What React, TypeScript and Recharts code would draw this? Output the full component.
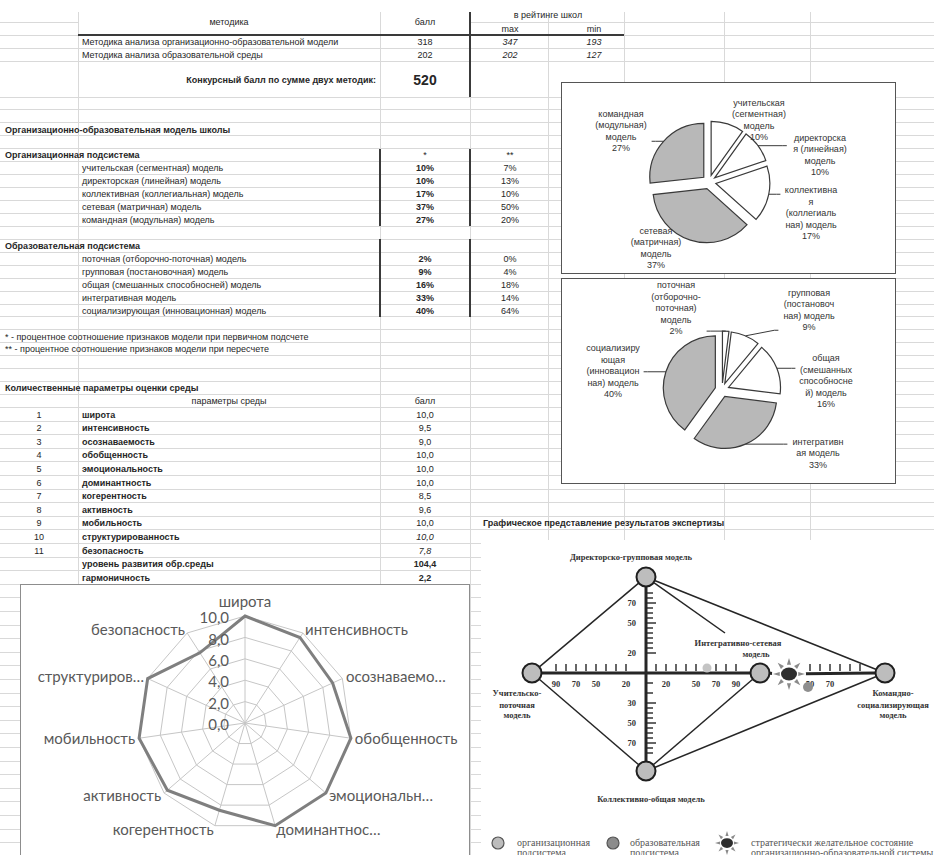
import React from 'react'
import {
  PieChart,
  Pie,
  Cell,
  RadarChart,
  Radar,
  PolarGrid,
  PolarAngleAxis,
  PolarRadiusAxis,
  ScatterChart,
  Scatter,
  XAxis,
  YAxis,
  ReferenceLine,
} from 'recharts'

// ---------- data ----------
const METHODS = [
  'Методика анализа организационно-образовательной модели',
  'Методика анализа образовательной среды',
]
const METHOD_SCORES = [318, 202]
const RATING_MAX = [347, 202]
const RATING_MIN = [193, 127]

const ORG_MODELS = [
  'учительская (сегментная) модель',
  'директорская (линейная) модель',
  'коллективная (коллегиальная) модель',
  'сетевая (матричная) модель',
  'командная (модульная) модель',
]
const ORG_PRIMARY = [10, 10, 17, 37, 27]
const ORG_RECOUNT = [7, 13, 10, 50, 20]
const ORG_PIE_LABELS = [
  ['учительская', '(сегментная)', 'модель'],
  ['директорска', 'я (линейная)', 'модель'],
  ['коллективна', 'я', '(коллегиаль', 'ная) модель'],
  ['сетевая', '(матричная)', 'модель'],
  ['командная', '(модульная)', 'модель'],
]

const EDU_MODELS = [
  'поточная (отборочно-поточная) модель',
  'групповая (постановочная) модель',
  'общая (смешанных способносней) модель',
  'интегративная модель',
  'социализирующая (инновационная) модель',
]
const EDU_PRIMARY = [2, 9, 16, 33, 40]
const EDU_RECOUNT = [0, 4, 18, 14, 64]
const EDU_PIE_LABELS = [
  ['поточная', '(отборочно-', 'поточная)', 'модель'],
  ['групповая', '(постановоч', 'ная) модель'],
  ['общая', '(смешанных', 'способносне', 'й) модель'],
  ['интегративн', 'ая модель'],
  ['социализиру', 'ющая', '(инновацион', 'ная) модель'],
]

const ENV_PARAMS = [
  'широта',
  'интенсивность',
  'осознаваемость',
  'обобщенность',
  'эмоциональность',
  'доминантность',
  'когерентность',
  'активность',
  'мобильность',
  'структурированность',
  'безопасность',
]
const ENV_AXIS_LABELS = [
  'широта',
  'интенсивность',
  'осознаваемо…',
  'обобщенность',
  'эмоциональн…',
  'доминантнос…',
  'когерентность',
  'активность',
  'мобильность',
  'структуриров…',
  'безопасность',
]
const ENV_SCORES = [10.0, 9.5, 9.0, 10.0, 10.0, 10.0, 8.5, 9.6, 10.0, 10.0, 7.8]
const ENV_ITALIC = [false, false, false, false, false, false, false, false, false, true, true]
const ENV_LEVEL = 104.4
const ENV_HARMONY = 2.2

// expert diagram, in scale points from the crossing of the two scales
const MODEL_NODES = [
  { name: 'Директорско-групповая модель', x: 0, y: 96 },
  { name: 'Учительско-поточная модель', x: -114, y: 0 },
  { name: 'Интегративно-сетевая модель', x: 114, y: 0 },
  { name: 'Командно-социализирующая модель', x: 239, y: 0 },
  { name: 'Коллективно-общая модель', x: 0, y: -98 },
]
const MODEL_LINKS = [
  [0, 1],
  [1, 4],
  [0, 3],
  [4, 3],
  [4, 2],
]
const ORG_STATE = [{ x: 61, y: 5 }]
const EDU_STATE = [{ x: 162, y: -14 }]
const TARGET_STATE = [{ x: 143, y: -1 }]
const POINTER_END = { x: 79, y: 40 }

const SCALE_H_LEFT = [20, 30, 40, 50, 60, 70, 80, 90]
const SCALE_H_RIGHT = [10, 20, 30, 40, 50, 60, 70, 80, 90]
const SCALE_H_OUTER = [50, 60, 70, 80, 90, 100]
const SCALE_V_UP = [20, 25, 30, 35, 40, 45, 50, 55, 60, 65, 70, 75, 80]
const SCALE_V_DOWN = [10, 20, 30, 35, 40, 45, 50, 55, 60, 65, 70, 75, 80]
const LABELS_H_LEFT = [90, 70, 50, 20]
const LABELS_H_RIGHT = [20, 50, 70, 90]
const LABELS_H_OUTER = [50, 70]
const LABELS_V_UP = [70, 50, 20]
const LABELS_V_DOWN = [30, 50, 70]

// ---------- look ----------
const W = 934
const H = 855
const SANS = '"Liberation Sans", Arial, sans-serif'
const SERIF = '"Liberation Serif", "Times New Roman", serif'
const CAL = 'Lato, "Open Sans", sans-serif'
const INK = '#262626'
const GRID = '#d9d9d9'
const DARK = '#262626'
const RAD = Math.PI / 180

const COLS = [78, 380, 470, 548, 624, 724, 810]
const COL_C = 425
const COL_D = 510
const COL_E = 594
const ROW_TOP = 97
const ROW_H = 12.94
const PROW_TOP = ROW_TOP + ROW_H * 24
const PROW_H = 13.6
const rowY = (k: number) => ROW_TOP + ROW_H * (k + 0.5)
const pRowY = (j: number) => PROW_TOP + PROW_H * (j + 0.5)
const pct = (v: number) => `${v}%`
const dec = (v: number) => v.toFixed(1).replace('.', ',')

function Txt({ x, y, children, anchor = 'start', bold = false, italic = false, size = 9, fill = INK }: any) {
  return (
    <text
      x={x}
      y={y + size * 0.35}
      textAnchor={anchor}
      fontWeight={bold ? 700 : 400}
      fontStyle={italic ? 'italic' : 'normal'}
      fontSize={size}
      fill={fill}
      fontFamily={SANS}
    >
      {children}
    </text>
  )
}

function Sheet() {
  const hLines: number[] = [48, 61]
  for (let k = 0; k <= 24; k++) hLines.push(ROW_TOP + k * ROW_H)
  for (let y = PROW_TOP + PROW_H; y < H; y += PROW_H) hLines.push(y)

  return (
    <svg width={W} height={H} style={{ position: 'absolute', left: 0, top: 0 }}>
      <g stroke={GRID} strokeWidth={1} shapeRendering="crispEdges">
        {COLS.map((x) => (
          <line key={x} x1={x} x2={x} y1={12} y2={H} />
        ))}
        {hLines.map((y, i) => (
          <line key={i} x1={0} x2={W} y1={y} y2={y} />
        ))}
        <line x1={0} x2={78} y1={22} y2={22} />
        <line x1={470} x2={W} y1={22} y2={22} />
        <line x1={0} x2={78} y1={35} y2={35} />
        <line x1={624} x2={W} y1={35} y2={35} />
      </g>
      <g stroke="#3a3a3a" strokeWidth={1.5} shapeRendering="crispEdges">
        <line x1={78} x2={624} y1={35} y2={35} />
        <line x1={470} x2={470} y1={12} y2={97} />
        <line x1={380} x2={380} y1={ROW_TOP + 4 * ROW_H} y2={ROW_TOP + 10 * ROW_H} />
        <line x1={470} x2={470} y1={ROW_TOP + 4 * ROW_H} y2={ROW_TOP + 10 * ROW_H} />
        <line x1={380} x2={380} y1={ROW_TOP + 11 * ROW_H} y2={ROW_TOP + 17 * ROW_H} />
        <line x1={470} x2={470} y1={ROW_TOP + 11 * ROW_H} y2={ROW_TOP + 17 * ROW_H} />
      </g>

      {/* top table */}
      <Txt x={229} y={22} anchor="middle">методика</Txt>
      <Txt x={COL_C} y={22} anchor="middle">балл</Txt>
      <Txt x={548} y={15} anchor="middle">в  рейтинге школ</Txt>
      <Txt x={COL_D} y={29} anchor="middle">max</Txt>
      <Txt x={COL_E} y={29} anchor="middle">min</Txt>
      {METHODS.map((m, i) => (
        <g key={m}>
          <Txt x={82} y={41.5 + 13 * i}>{m}</Txt>
          <Txt x={COL_C} y={41.5 + 13 * i} anchor="middle">{METHOD_SCORES[i]}</Txt>
          <Txt x={COL_D} y={41.5 + 13 * i} anchor="middle" italic>{RATING_MAX[i]}</Txt>
          <Txt x={COL_E} y={41.5 + 13 * i} anchor="middle" italic>{RATING_MIN[i]}</Txt>
        </g>
      ))}
      <Txt x={376} y={80} anchor="end" bold>Конкурсный балл по сумме двух методик:</Txt>
      <Txt x={COL_C} y={80} anchor="middle" bold size={14}>
        {METHOD_SCORES.reduce((s, v) => s + v, 0)}
      </Txt>

      {/* subsystems */}
      <Txt x={5} y={rowY(2)} bold>Организационно-образовательная модель школы</Txt>
      <Txt x={5} y={rowY(4)} bold>Организационная подсистема</Txt>
      <Txt x={COL_C} y={rowY(4)} anchor="middle">*</Txt>
      <Txt x={COL_D} y={rowY(4)} anchor="middle">**</Txt>
      {ORG_MODELS.map((m, i) => (
        <g key={m}>
          <Txt x={82} y={rowY(5 + i)}>{m}</Txt>
          <Txt x={COL_C} y={rowY(5 + i)} anchor="middle" bold>{pct(ORG_PRIMARY[i])}</Txt>
          <Txt x={COL_D} y={rowY(5 + i)} anchor="middle">{pct(ORG_RECOUNT[i])}</Txt>
        </g>
      ))}
      <Txt x={5} y={rowY(11)} bold>Образовательная подсистема</Txt>
      {EDU_MODELS.map((m, i) => (
        <g key={m}>
          <Txt x={82} y={rowY(12 + i)}>{m}</Txt>
          <Txt x={COL_C} y={rowY(12 + i)} anchor="middle" bold>{pct(EDU_PRIMARY[i])}</Txt>
          <Txt x={COL_D} y={rowY(12 + i)} anchor="middle">{pct(EDU_RECOUNT[i])}</Txt>
        </g>
      ))}
      <Txt x={5} y={rowY(18)}>* - процентное соотношение признаков модели при первичном подсчете</Txt>
      <Txt x={5} y={rowY(19)}>** - процентное соотношение признаков модели при пересчете</Txt>

      {/* environment */}
      <Txt x={5} y={rowY(22)} bold>Количественные параметры оценки среды</Txt>
      <Txt x={229} y={rowY(23)} anchor="middle">параметры среды</Txt>
      <Txt x={COL_C} y={rowY(23)} anchor="middle">балл</Txt>
      {ENV_PARAMS.map((p, j) => (
        <g key={p}>
          <Txt x={39} y={pRowY(j)} anchor="middle">{j + 1}</Txt>
          <Txt x={82} y={pRowY(j)} bold>{p}</Txt>
          <Txt x={COL_C} y={pRowY(j)} anchor="middle" italic={ENV_ITALIC[j]}>{dec(ENV_SCORES[j])}</Txt>
        </g>
      ))}
      <Txt x={82} y={pRowY(11)} bold>уровень развития обр.среды</Txt>
      <Txt x={COL_C} y={pRowY(11)} anchor="middle" bold>{dec(ENV_LEVEL)}</Txt>
      <Txt x={82} y={pRowY(12)} bold>гармоничность</Txt>
      <Txt x={COL_C} y={pRowY(12)} anchor="middle" bold>{dec(ENV_HARMONY)}</Txt>

      <Txt x={483} y={pRowY(8)} bold>Графическое представление результатов экспертизы</Txt>
    </svg>
  )
}

// ---------- exploded pies ----------
const EXPLODE = 7
const LH = 11.5

function midAngles(values: number[]) {
  const total = values.reduce((s, v) => s + v, 0)
  let acc = 0
  return values.map((v) => {
    const m = 90 - (360 * (acc + v / 2)) / total
    acc += v
    return m
  })
}

function ExplodedPie({ names, values, labels, fills, left, top, width, height, cx, cy, radius, labelAt }: any) {
  const data = values.map((v: number, i: number) => ({ name: names[i], value: v }))
  const mids = midAngles(values)

  const renderLabel = (p: any) => {
    const i = p.index
    const lx = cx + labelAt[i][0]
    const ly = cy + labelAt[i][1]
    const lines = [...labels[i], pct(values[i])]
    const first = ly - ((lines.length - 1) * LH) / 2
    const last = first + (lines.length - 1) * LH
    const a = mids[i] * RAD
    const r = radius + EXPLODE
    const px = cx + r * Math.cos(a)
    const py = cy - r * Math.sin(a)
    const halfW = Math.max(...lines.map((l: string) => l.length)) * 2.6 + 2
    const ax = px < lx ? lx - halfW : lx + halfW
    const ay = Math.min(Math.max(py, first - 3), last + 3)
    const leader = Math.hypot(ax - px, ay - py) > 5 && Math.abs(px - lx) > halfW
    return (
      <g key={`l${i}`}>
        {leader && (
          <polyline
            points={`${ax},${ay} ${ax + (px < lx ? -4 : 4)},${ay} ${px},${py}`}
            fill="none"
            stroke="#3a3a3a"
            strokeWidth={1}
          />
        )}
        <text fontSize={9} fontFamily={SANS} fill="#333" textAnchor="middle">
          {lines.map((l: string, j: number) => (
            <tspan key={j} x={lx} y={first + j * LH + 3.2}>
              {l}
            </tspan>
          ))}
        </text>
      </g>
    )
  }

  return (
    <div
      style={{
        position: 'absolute',
        left,
        top,
        width,
        height,
        border: '1.5px solid #555',
        boxSizing: 'border-box',
        background: '#fff',
      }}
    >
      <PieChart width={width - 3} height={height - 3} margin={{ top: 0, right: 0, bottom: 0, left: 0 }}>
        {data.map((_: any, k: number) => (
          <Pie
            key={k}
            data={data}
            dataKey="value"
            nameKey="name"
            cx={cx + EXPLODE * Math.cos(mids[k] * RAD)}
            cy={cy - EXPLODE * Math.sin(mids[k] * RAD)}
            innerRadius={0}
            outerRadius={radius}
            startAngle={90}
            endAngle={-270}
            isAnimationActive={false}
            label={k === 0 ? renderLabel : false}
            labelLine={false}
          >
            {data.map((_: any, i: number) => (
              <Cell
                key={i}
                fill={i === k ? fills[i] : 'none'}
                stroke={i === k ? '#3a3a3a' : 'none'}
                strokeWidth={1.2}
              />
            ))}
          </Pie>
        ))}
      </PieChart>
    </div>
  )
}

// ---------- radar ----------
const RADAR_CX = 224
const RADAR_CY = 138

function AngleTick({ x, y, payload }: any) {
  const dx = x - RADAR_CX
  const dy = y - RADAR_CY
  const anchor = Math.abs(dx) < 2 ? 'middle' : dx > 0 ? 'start' : 'end'
  const yy = Math.abs(dx) < 2 && dy < 0 ? y - 10 : y
  return (
    <text x={x} y={yy} dy="0.35em" textAnchor={anchor} fontSize={15} fill="#595959" fontFamily={CAL}>
      {payload.value}
    </text>
  )
}

function RadiusTick({ x, y, payload }: any) {
  return (
    <text x={x - 16} y={y + 2} dy="0.35em" textAnchor="end" fontSize={15} fill="#595959" fontFamily={CAL}>
      {dec(Number(payload.value))}
    </text>
  )
}

function EnvRadar() {
  const data = ENV_PARAMS.map((p, i) => ({ name: p, axis: ENV_AXIS_LABELS[i], score: ENV_SCORES[i] }))
  return (
    <div
      style={{
        position: 'absolute',
        left: 20,
        top: 584,
        width: 450,
        height: 280,
        border: '1px solid #8d8d8d',
        boxSizing: 'border-box',
        background: '#fff',
      }}
    >
      <RadarChart
        width={448}
        height={278}
        data={data}
        cx={RADAR_CX}
        cy={RADAR_CY}
        outerRadius={107}
        startAngle={90}
        endAngle={-270}
      >
        <PolarGrid gridType="polygon" stroke="#c6c6c6" />
        <PolarAngleAxis dataKey="axis" tick={<AngleTick />} tickLine={false} axisLine={false} tickSize={4} />
        <PolarRadiusAxis angle={90} domain={[0, 10]} tickCount={6} axisLine={false} tick={<RadiusTick />} />
        <Radar dataKey="score" stroke="#7f7f7f" strokeWidth={3} fill="none" dot={false} isAnimationActive={false} />
      </RadarChart>
    </div>
  )
}

// ---------- expert diagram ----------
const NODE_R = 10
const SUN_R = 16

function trim(a: any, b: any, ra: number, rb: number) {
  const dx = b.x - a.x
  const dy = b.y - a.y
  const L = Math.hypot(dx, dy)
  return [
    { x: a.x + (dx * ra) / L, y: a.y + (dy * ra) / L },
    { x: b.x - (dx * rb) / L, y: b.y - (dy * rb) / L },
  ]
}

function TickMark({ cx, cy, payload }: any) {
  if (payload.dir === 'h') return <line x1={cx} x2={cx} y1={cy - 9} y2={cy - 2} stroke={DARK} strokeWidth={1.4} />
  return <line x1={cx} x2={cx + (payload.long ? 10 : 7)} y1={cy} y2={cy} stroke={DARK} strokeWidth={1.4} />
}

function ScaleLabel({ cx, cy, payload }: any) {
  const common = { fontSize: 8.5, fontFamily: SERIF, fontWeight: 700, fill: '#333' }
  if (payload.dir === 'h')
    return (
      <text x={cx} y={cy + 14} textAnchor="middle" {...common}>
        {payload.v}
      </text>
    )
  return (
    <text x={cx - 10} y={cy + 3} textAnchor="end" {...common}>
      {payload.v}
    </text>
  )
}

function NodeShape({ cx, cy }: any) {
  return <circle cx={cx} cy={cy} r={9.5} fill="#bdbdbd" stroke="#1f1f1f" strokeWidth={2} />
}

function SunShape({ cx, cy, s = 1 }: any) {
  const rays = []
  for (let k = 0; k < 8; k++) {
    const a = k * 45 * RAD
    const p = (r: number, off: number) =>
      `${cx + r * s * Math.cos(a + off)},${cy + r * s * Math.sin(a + off)}`
    rays.push(<polygon key={k} points={`${p(9.5, -0.22)} ${p(16, 0)} ${p(9.5, 0.22)}`} fill="#8a8a8a" />)
  }
  return (
    <g>
      <circle cx={cx} cy={cy} r={17 * s} fill="#fff" />
      {rays}
      <ellipse cx={cx} cy={cy} rx={8 * s} ry={6.5 * s} fill="#2e2e2e" />
    </g>
  )
}

function DotShape({ cx, cy, fill, r }: any) {
  return <circle cx={cx} cy={cy} r={r} fill={fill} />
}

const DIAGRAM_TEXT = [
  { x: -15, y: 116, t: 'Директорско-групповая модель' },
  { x: 92, y: 30, t: 'Интегративно-сетевая' },
  { x: 110, y: 19, t: 'модель' },
  { x: -129, y: -20, t: 'Учительско-' },
  { x: -129, y: -32, t: 'поточная' },
  { x: -129, y: -42, t: 'модель' },
  { x: 247, y: -20, t: 'Командно-' },
  { x: 247, y: -32, t: 'социализирующая' },
  { x: 247, y: -42, t: 'модель' },
  { x: 5, y: -126, t: 'Коллективно-общая модель' },
]

function DiagramText({ cx, cy, payload }: any) {
  return (
    <text x={cx} y={cy + 3} textAnchor="middle" fontSize={8.5} fontFamily={SERIF} fontWeight={700} fill="#333">
      {payload.t}
    </text>
  )
}

function ExpertDiagram() {
  const midX = MODEL_NODES[2].x
  const marks = [
    ...SCALE_H_LEFT.map((v) => ({ x: -v, y: 0, dir: 'h' })),
    ...SCALE_H_RIGHT.map((v) => ({ x: v, y: 0, dir: 'h' })),
    ...SCALE_H_OUTER.map((v) => ({ x: midX + v, y: 0, dir: 'h' })),
    ...SCALE_V_UP.map((v) => ({ x: 0, y: v, dir: 'v', long: LABELS_V_UP.includes(v) })),
    ...SCALE_V_DOWN.map((v) => ({ x: 0, y: -v, dir: 'v', long: LABELS_V_DOWN.includes(v) })),
  ]
  const marksText = [
    ...LABELS_H_LEFT.map((v) => ({ x: -v, y: 0, v, dir: 'h' })),
    ...LABELS_H_RIGHT.map((v) => ({ x: v, y: 0, v, dir: 'h' })),
    ...LABELS_H_OUTER.map((v) => ({ x: midX + v, y: 0, v, dir: 'h' })),
    ...LABELS_V_UP.map((v) => ({ x: 0, y: v, v, dir: 'v' })),
    ...LABELS_V_DOWN.map((v) => ({ x: 0, y: -v, v, dir: 'v' })),
  ]
  const [top, left, mid, right, bottom] = MODEL_NODES
  const sun = TARGET_STATE[0]
  const thin = MODEL_LINKS.map(([a, b]) => trim(MODEL_NODES[a], MODEL_NODES[b], NODE_R, NODE_R))
  thin.push(trim(top, POINTER_END, NODE_R, 0))
  const thick = [
    trim(top, bottom, NODE_R, NODE_R),
    trim(left, mid, NODE_R, NODE_R),
    trim(mid, sun, NODE_R, SUN_R),
    trim(sun, right, SUN_R, NODE_R),
  ]

  return (
    <div style={{ position: 'absolute', left: 481, top: 540, width: 453, height: 315, background: '#fff' }}>
      <ScatterChart width={453} height={315} margin={{ top: 0, right: 0, bottom: 0, left: 0 }}>
        <XAxis type="number" dataKey="x" domain={[-165, 288]} allowDataOverflow hide />
        <YAxis type="number" dataKey="y" domain={[-182, 133]} allowDataOverflow hide />
        {thin.map((seg, i) => (
          <ReferenceLine key={`t${i}`} segment={seg} stroke={DARK} strokeWidth={1.5} ifOverflow="visible" />
        ))}
        {thick.map((seg, i) => (
          <ReferenceLine key={`k${i}`} segment={seg} stroke={DARK} strokeWidth={3} ifOverflow="visible" />
        ))}
        <Scatter data={marks} shape={<TickMark />} isAnimationActive={false} />
        <Scatter data={marksText} shape={<ScaleLabel />} isAnimationActive={false} />
        <Scatter data={MODEL_NODES} shape={<NodeShape />} isAnimationActive={false} />
        <Scatter data={TARGET_STATE} shape={<SunShape />} isAnimationActive={false} />
        <Scatter data={ORG_STATE} shape={<DotShape fill="#c4c4c4" r={4.5} />} isAnimationActive={false} />
        <Scatter data={EDU_STATE} shape={<DotShape fill="#8e8e8e" r={5} />} isAnimationActive={false} />
        <Scatter data={DIAGRAM_TEXT} shape={<DiagramText />} isAnimationActive={false} />
      </ScatterChart>
      <svg width={453} height={30} style={{ position: 'absolute', left: 0, top: 285 }}>
        <circle cx={17} cy={18} r={6} fill="#bdbdbd" stroke="#555" strokeWidth={1.2} />
        <circle cx={132} cy={18} r={6} fill="#8c8c8c" stroke="#555" strokeWidth={1.2} />
        <SunShape cx={246} cy={18} s={0.75} />
        <g fontFamily={SERIF} fontSize={10} fill="#555">
          <text x={36} y={20.5}>организационная</text>
          <text x={36} y={31}>подсистема</text>
          <text x={149} y={20.5}>образовательная</text>
          <text x={149} y={31}>подсистема</text>
          <text x={270} y={20.5}>стратегически желательное состояние</text>
          <text x={270} y={31}>организационно-образовательной системы</text>
        </g>
      </svg>
    </div>
  )
}

const PIE_FILLS = ['#ffffff', '#ffffff', '#ffffff', '#b8b8b8', '#b8b8b8']

export default function App() {
  return (
    <div style={{ position: 'absolute', left: 0, top: 0, width: W, height: H, overflow: 'hidden', background: '#fff' }}>
      <Sheet />
      <ExplodedPie
        names={ORG_MODELS}
        values={ORG_PRIMARY}
        labels={ORG_PIE_LABELS}
        fills={PIE_FILLS}
        left={561}
        top={82}
        width={335}
        height={192}
        cx={147}
        cy={99}
        radius={54}
        labelAt={[
          [50, -62],
          [111, -27],
          [102, 31],
          [-53, 66],
          [-88, -51],
        ]}
      />
      <ExplodedPie
        names={EDU_MODELS}
        values={EDU_PRIMARY}
        labels={EDU_PIE_LABELS}
        fills={PIE_FILLS}
        left={561}
        top={278}
        width={335}
        height={206}
        cx={160}
        cy={111}
        radius={52}
        labelAt={[
          [-46, -82],
          [87, -80],
          [104, -9],
          [96, 63],
          [-109, -19],
        ]}
      />
      <EnvRadar />
      <ExpertDiagram />
    </div>
  )
}
